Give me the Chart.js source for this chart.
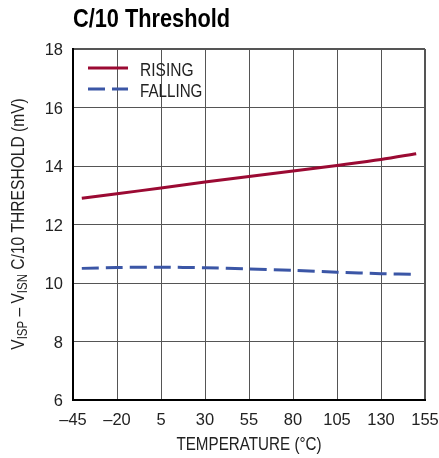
<!DOCTYPE html>
<html lang="en">
<head>
  <meta charset="UTF-8">
  <title>C/10 Threshold</title>
  <script src="https://cdn.jsdelivr.net/npm/chart.js"></script>
  <style>
    body { margin: 0; background: white; }
    #wrap { width: 439px; height: 458px; position: relative; }
  </style>
</head>
<body>
  <div id="wrap"><canvas id="chart"></canvas></div>

  <script>
    const temps = [-40, -20, 5, 30, 55, 80, 105, 130, 150];
    const rising = [12.9, 13.05, 13.25, 13.45, 13.64, 13.83, 14.02, 14.22, 14.42];
    const falling = [10.5, 10.53, 10.54, 10.52, 10.48, 10.43, 10.37, 10.32, 10.3];
    const xTicks = [-45, -20, 5, 30, 55, 80, 105, 130, 155];
    const yTicks = [6, 8, 10, 12, 14, 16, 18];

    const FONT = "'Liberation Sans', Arial, sans-serif";
    const RED = '#9b0a33';
    const BLUE = '#3b56a6';
    const TXT = '#222';

    // text squeezed horizontally, the original uses a condensed face
    function narrowText(c, str, x, y, font, sx, align) {
      c.save();
      c.font = font;
      const w = c.measureText(str).width * sx;
      let left = x;
      if (align === 'center') left = x - w / 2;
      if (align === 'right') left = x - w;
      c.translate(left, y);
      c.scale(sx, 1);
      c.textAlign = 'left';
      c.fillText(str, 0, 0);
      c.restore();
    }

    const extras = {
      id: 'extras',
      afterDraw(chart) {
        const c = chart.ctx;
        const a = chart.chartArea;
        const xs = chart.scales.x, ys = chart.scales.y;
        c.save();
        c.textBaseline = 'alphabetic';
        c.fillStyle = '#000';
        narrowText(c, 'C/10 Threshold', 73, 27, 'bold 25px ' + FONT, 0.87, 'left');

        // tick labels
        c.fillStyle = TXT;
        xTicks.forEach(v => {
          const s = v < 0 ? '\u2013' + Math.abs(v) : String(v);
          narrowText(c, s, xs.getPixelForValue(v), 425, '17px ' + FONT, 0.97, 'center');
        });
        yTicks.forEach(v => {
          narrowText(c, String(v), 63, ys.getPixelForValue(v) + 6, '17px ' + FONT, 0.97, 'right');
        });

        narrowText(c, 'TEMPERATURE (°C)', (a.left + a.right) / 2, 450, '19px ' + FONT, 0.8, 'center');

        // y title with subscripts
        const sx = 0.82;
        const parts = [
          ['V', 19, 0], ['ISP', 14, 3], [' \u2013 V', 19, 0], ['ISN', 14, 3], [' C/10 THRESHOLD (mV)', 19, 0]
        ];
        let total = 0;
        parts.forEach(p => { c.font = p[1] + 'px ' + FONT; total += c.measureText(p[0]).width * sx; });
        c.translate(24, 224);
        c.rotate(-Math.PI / 2);
        let x = -total / 2;
        parts.forEach(p => {
          narrowText(c, p[0], x, p[2], p[1] + 'px ' + FONT, sx, 'left');
          c.font = p[1] + 'px ' + FONT;
          x += c.measureText(p[0]).width * sx;
        });
        c.setTransform(1, 0, 0, 1, 0, 0);

        // legend
        c.lineWidth = 3;
        c.strokeStyle = RED;
        c.beginPath(); c.moveTo(88, 68); c.lineTo(128, 68); c.stroke();
        c.strokeStyle = BLUE;
        c.setLineDash([17, 7]);
        c.beginPath(); c.moveTo(88, 89); c.lineTo(128, 89); c.stroke();
        c.setLineDash([]);
        c.fillStyle = TXT;
        narrowText(c, 'RISING', 140, 76, '18.5px ' + FONT, 0.84, 'left');
        narrowText(c, 'FALLING', 140, 97, '18.5px ' + FONT, 0.82, 'left');
        c.restore();
      }
    };

    new Chart(document.getElementById('chart'), {
      type: 'line',
      data: {
        datasets: [
          {
            label: 'RISING',
            data: temps.map((t, i) => ({ x: t, y: rising[i] })),
            borderColor: RED,
            borderWidth: 3,
            pointRadius: 0,
            tension: 0.3
          },
          {
            label: 'FALLING',
            data: temps.map((t, i) => ({ x: t, y: falling[i] })),
            borderColor: BLUE,
            borderWidth: 3,
            borderDash: [17, 7],
            pointRadius: 0,
            tension: 0.3
          }
        ]
      },
      options: {
        responsive: true,
        maintainAspectRatio: false,
        animation: false,
        layout: { padding: { left: 0, right: 14, top: 49, bottom: 0 } },
        plugins: { legend: { display: false }, tooltip: { enabled: false } },
        scales: {
          x: {
            type: 'linear',
            min: -45, max: 155,
            afterBuildTicks: s => { s.ticks = xTicks.map(v => ({ value: v })); },
            afterFit: s => { s.height = 58; },
            grid: {
              color: '#555',
              lineWidth: ctx => (ctx.tick && ctx.tick.value === 155 ? 2 : 1),
              drawTicks: false
            },
            border: { color: '#000', width: 2 },
            ticks: { display: false }
          },
          y: {
            min: 6, max: 18,
            afterBuildTicks: s => { s.ticks = yTicks.map(v => ({ value: v })); },
            afterFit: s => { s.width = 73; },
            grid: {
              color: '#555',
              lineWidth: ctx => (ctx.tick && ctx.tick.value === 18 ? 2 : 1),
              drawTicks: false
            },
            border: { color: '#000', width: 2 },
            ticks: { display: false }
          }
        }
      },
      plugins: [extras]
    });
  </script>
</body>
</html>
